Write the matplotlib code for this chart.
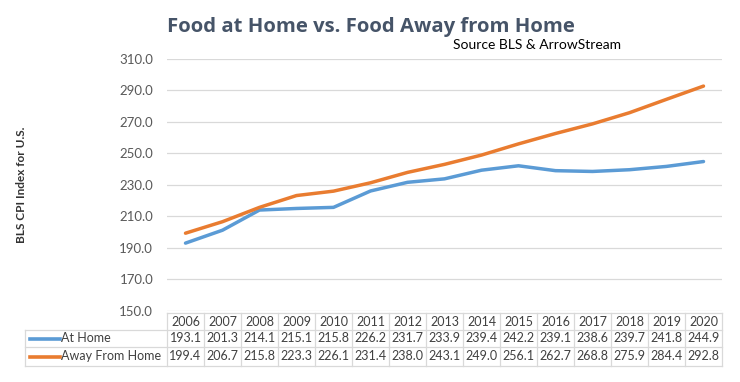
import matplotlib
matplotlib.use("Agg")
import matplotlib.pyplot as plt
from matplotlib.lines import Line2D
from matplotlib.transforms import blended_transform_factory

years = [2006, 2007, 2008, 2009, 2010, 2011, 2012, 2013, 2014, 2015,
         2016, 2017, 2018, 2019, 2020]
at_home = [193.1, 201.3, 214.1, 215.1, 215.8, 226.2, 231.7, 233.9, 239.4,
           242.2, 239.1, 238.6, 239.7, 241.8, 244.9]
away_home = [199.4, 206.7, 215.8, 223.3, 226.1, 231.4, 238.0, 243.1, 249.0,
             256.1, 262.7, 268.8, 275.9, 284.4, 292.8]
yticks = [150, 170, 190, 210, 230, 250, 270, 290, 310]

blue = "#5B9BD5"
orange = "#E97C30"
txt = "#404040"
grid = "#D9D9D9"

plt.rcParams["font.family"] = ["Lato", "DejaVu Sans"]

W, H = 740, 382
fig = plt.figure(figsize=(7.4, 3.82), dpi=100)
ax = fig.add_axes([167 / W, 1 - 311 / H, 555 / W, 252 / H])

x = list(range(len(years)))
ax.plot(x, at_home, color=blue, lw=2.5, solid_capstyle="round")
ax.plot(x, away_home, color=orange, lw=2.5, solid_capstyle="round")

ax.set_xlim(-0.5, len(years) - 0.5)
ax.set_ylim(150, 310)
ax.set_yticks(yticks)
ax.set_yticklabels([f"{v:.1f}" for v in yticks], fontsize=9.5, color="#595959")
ax.set_xticks([])
ax.tick_params(axis="y", length=0, pad=10)
ax.grid(axis="y", color=grid, lw=0.9)
ax.set_axisbelow(True)
for s in ax.spines.values():
    s.set_visible(False)

# data table under the plot
tr = blended_transform_factory(ax.transData, fig.transFigure)
def fy(py):
    return 1 - py / H

rows = [313, 330, 347, 366]
left = -0.5 - (167 - 25) / 37.0
right = len(years) - 0.5
tc = "#D9D9D9"
# horizontal lines
fig.add_artist(Line2D([-0.5, right], [fy(rows[0])] * 2, transform=tr, color=tc, lw=0.9))
for r in rows[1:]:
    fig.add_artist(Line2D([left, right], [fy(r)] * 2, transform=tr, color=tc, lw=0.9))
# vertical lines
for i in range(len(years) + 1):
    fig.add_artist(Line2D([i - 0.5] * 2, [fy(rows[0]), fy(rows[3])], transform=tr, color=tc, lw=0.9))
fig.add_artist(Line2D([left] * 2, [fy(rows[1]), fy(rows[3])], transform=tr, color=tc, lw=0.9))

for i, yr in enumerate(years):
    fig.text(i, fy((rows[0] + rows[1]) / 2), str(yr), transform=tr,
             ha="center", va="center", fontsize=9, color=txt)
    fig.text(i, fy((rows[1] + rows[2]) / 2), f"{at_home[i]:.1f}", transform=tr,
             ha="center", va="center", fontsize=9, color=txt)
    fig.text(i, fy((rows[2] + rows[3]) / 2), f"{away_home[i]:.1f}", transform=tr,
             ha="center", va="center", fontsize=9, color=txt)

for (r0, r1), lab, c in [((rows[1], rows[2]), "At Home", blue),
                         ((rows[2], rows[3]), "Away From Home", orange)]:
    yy = fy((r0 + r1) / 2)
    fig.add_artist(Line2D([30 / W, 60 / W], [yy, yy], color=c, lw=2.6))
    fig.text(61 / W, yy, lab, ha="left", va="center", fontsize=9, color=txt)

fig.text(371 / W, fy(27), "Food at Home vs. Food Away from Home",
         ha="center", va="center", fontsize=14.6, fontweight="bold",
         color="#465468", family=["Open Sans", "DejaVu Sans"])
fig.text(537 / W, fy(45), "Source BLS & ArrowStream",
         ha="center", va="center", fontsize=10, color="#000000")
fig.text(22 / W, fy(185), "BLS CPI Index for U.S.", rotation=90,
         ha="center", va="center", fontsize=8.5, fontweight="bold", color="#333333")

fig.savefig("out.png", dpi=100, facecolor="white")
